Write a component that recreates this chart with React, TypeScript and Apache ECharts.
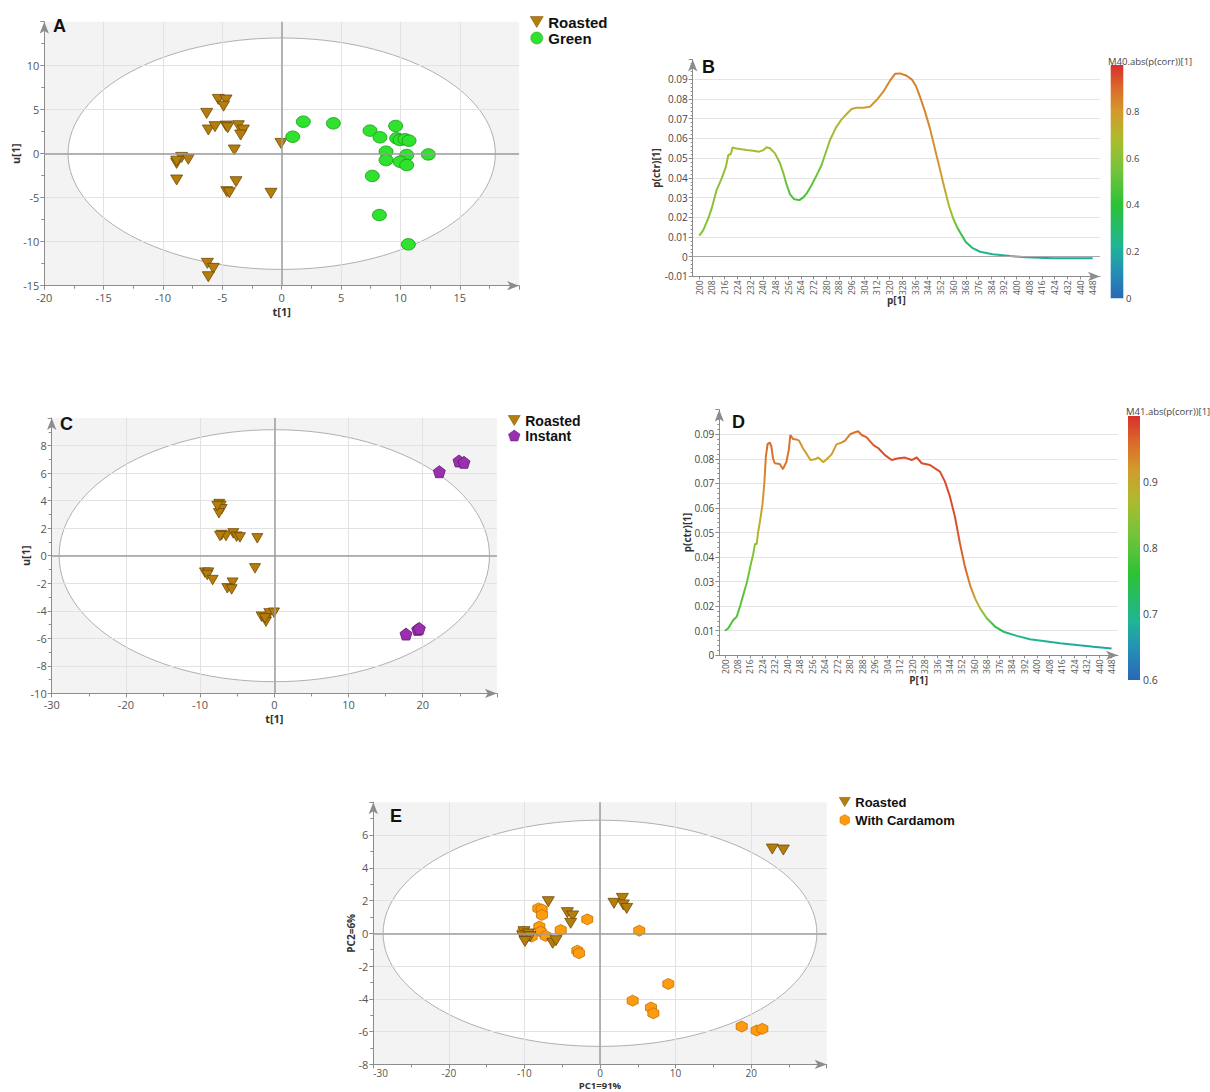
import React, { useEffect, useRef } from 'react';
import * as echarts from 'echarts';

// ---------------- Panel A (OPLS-DA scores, Roasted vs Green) ----------------
const A_ROASTED: [number, number][] = [
  [-5.34, 6.17], [-4.69, 6.1], [-4.9, 5.4], [-6.32, 4.58], [-6.18, 2.69], [-5.62, 3.07],
  [-4.69, 3.14], [-4.55, 2.95], [-3.65, 3.18], [-3.23, 2.69], [-3.46, 2.12], [-3.99, 0.42],
  [-0.06, 1.17], [-8.85, -1.1], [-8.43, -0.42], [-7.87, -0.64], [-8.85, -0.85], [-8.85, -2.99],
  [-3.85, -3.18], [-4.63, -4.32], [-4.41, -4.43], [-0.9, -4.5], [-6.26, -12.46], [-5.76, -13.03],
  [-6.18, -13.98],
];
const A_GREEN: [number, number][] = [
  [0.93, 1.93], [1.82, 3.64], [4.35, 3.45], [7.44, 2.62], [8.28, 1.86], [9.6, 3.15], [9.69, 1.75],
  [9.97, 1.56], [10.39, 1.64], [10.73, 1.48], [8.79, 0.23], [8.79, -0.72], [10.53, -0.15],
  [9.97, -0.91], [10.53, -1.29], [12.35, -0.08], [7.63, -2.53], [8.23, -6.97], [10.67, -10.3],
];
const A_ELLIPSE = [18, 13.15];

// ---------------- Panel B (loadings, p(ctr)[1]) ----------------
const B_X = [200, 202.5, 205.7, 207.8, 210.9, 214.1, 216.8, 218.3, 219.8, 221, 222.5, 225.6, 229.8, 234, 237.8,
  240.4, 242.5, 244.6, 247.7, 250.9, 253, 255.1, 257.2, 259.9, 263.1, 265.6, 267.7, 270.8, 274, 277.1, 279.2,
  282.4, 286.2, 289.7, 292.9, 296, 299.2, 303.4, 307.6, 311.8, 316, 320.2, 323.4, 326.5, 330.7, 333.9, 336.6,
  339.1, 342.3, 345.4, 348.6, 351.5, 354.5, 357.5, 360, 362.5, 365, 368, 372, 377, 385, 396, 406, 423, 448];
const B_Y = [0.0107, 0.0135, 0.0195, 0.0245, 0.0338, 0.0397, 0.0457, 0.0516, 0.052, 0.0555, 0.055, 0.0546,
  0.0541, 0.0538, 0.0533, 0.0541, 0.0555, 0.055, 0.0524, 0.0474, 0.0423, 0.0364, 0.0316, 0.0291, 0.0287,
  0.0301, 0.0321, 0.0364, 0.0414, 0.0465, 0.0516, 0.0592, 0.0656, 0.0697, 0.0724, 0.0749, 0.0756, 0.0756,
  0.0761, 0.0795, 0.0837, 0.0893, 0.0928, 0.093, 0.0918, 0.09, 0.0866, 0.0812, 0.0736, 0.0651, 0.0545, 0.045,
  0.035, 0.0255, 0.0195, 0.015, 0.0115, 0.0075, 0.0045, 0.0025, 0.0012, 0.0003, -0.0003, -0.0008, -0.0008];
const B_CORR = [0.6, 0.6, 0.61, 0.61, 0.62, 0.62, 0.63, 0.64, 0.64, 0.65, 0.65, 0.65, 0.65, 0.65, 0.65, 0.65,
  0.65, 0.65, 0.64, 0.6, 0.57, 0.52, 0.48, 0.45, 0.44, 0.45, 0.47, 0.5, 0.53, 0.56, 0.6, 0.63, 0.66, 0.69, 0.72,
  0.75, 0.77, 0.78, 0.79, 0.81, 0.83, 0.85, 0.86, 0.86, 0.86, 0.86, 0.85, 0.85, 0.84, 0.83, 0.82, 0.8, 0.76,
  0.68, 0.6, 0.5, 0.42, 0.34, 0.28, 0.24, 0.22, 0.21, 0.2, 0.19, 0.18];
const B_XTICKS = [200, 208, 216, 224, 232, 240, 248, 256, 264, 272, 280, 288, 296, 304, 312, 320, 328, 336,
  344, 352, 360, 368, 376, 384, 392, 400, 408, 416, 424, 432, 440, 448];
const B_CB_TICKS = [0, 0.2, 0.4, 0.6, 0.8];

// ---------------- Panel C (Roasted vs Instant) ----------------
const C_ROASTED: [number, number][] = [
  [-7.41, 3.75], [-7.23, 3.61], [-7.1, 3.37], [-7.46, 3.08], [-7.68, 3.61], [-7.1, 1.5], [-6.51, 1.43],
  [-7.32, 1.43], [-5.53, 1.62], [-5.08, 1.38], [-4.63, 1.33], [-2.29, 1.26], [-2.6, -0.92], [-9.34, -1.23],
  [-8.89, -1.23], [-9.03, -1.4], [-8.31, -1.77], [-5.62, -1.96], [-6.33, -2.37], [-5.75, -2.45],
  [-1.71, -4.43], [-1.12, -4.79], [-0.67, -4.19], [-0.04, -4.14], [-1.26, -4.55],
];
const C_INSTANT: [number, number][] = [
  [22.24, 6.1], [24.89, 6.88], [25.56, 6.78], [17.75, -5.69], [19.32, -5.35], [19.55, -5.28],
];
const C_ELLIPSE = [29, 9.15];

// ---------------- Panel D (loadings) ----------------
const D_X = [200, 202.1, 205.3, 207.5, 209.6, 211.7, 213.9, 216.7, 218.1, 219.2, 220.3, 221.3, 222.9, 224.1,
  225.2, 226.2, 227.3, 228.8, 229.8, 230.8, 231.9, 235.1, 237.2, 239.4, 240.9, 241.9, 243.6, 245.8, 247.5, 250,
  252.2, 254.8, 257.7, 259.8, 263, 265.2, 268.4, 271.5, 274.7, 277, 280.2, 283.4, 285.5, 287.7, 290.9, 295.2,
  298.4, 302.6, 306.9, 311.2, 315.5, 319.8, 323, 326.2, 331.5, 334.7, 337.9, 341.1, 344.3, 347.5, 350.7, 353.9,
  357.2, 360.4, 363.6, 367.9, 373.2, 378.6, 387.2, 395.6, 404.2, 414.9, 425.6, 436.3, 448];
const D_Y = [0.01, 0.011, 0.0144, 0.0157, 0.0198, 0.0246, 0.0293, 0.0375, 0.0412, 0.0453, 0.0453, 0.0503,
  0.0564, 0.0619, 0.07, 0.0809, 0.086, 0.0866, 0.0849, 0.0802, 0.0782, 0.0779, 0.0758, 0.0788, 0.0836, 0.0897,
  0.0881, 0.0879, 0.0874, 0.0843, 0.0822, 0.0795, 0.0798, 0.0806, 0.0786, 0.0798, 0.0818, 0.0859, 0.0866,
  0.0874, 0.09, 0.0908, 0.0912, 0.0897, 0.0887, 0.0856, 0.0843, 0.0815, 0.0795, 0.0802, 0.0805, 0.0795, 0.0806,
  0.0782, 0.0775, 0.0761, 0.0748, 0.0707, 0.0646, 0.0564, 0.0456, 0.0361, 0.0286, 0.0232, 0.0191, 0.0151,
  0.0117, 0.0096, 0.0079, 0.0065, 0.0058, 0.0049, 0.0042, 0.0035, 0.0028];
const D_CORR = [0.78, 0.78, 0.79, 0.79, 0.8, 0.8, 0.81, 0.82, 0.83, 0.84, 0.86, 0.88, 0.9, 0.92, 0.93, 0.95,
  0.96, 0.96, 0.96, 0.95, 0.95, 0.95, 0.95, 0.95, 0.95, 0.96, 0.95, 0.94, 0.93, 0.92, 0.91, 0.9, 0.9, 0.9, 0.9,
  0.9, 0.91, 0.92, 0.93, 0.94, 0.95, 0.95, 0.96, 0.96, 0.97, 0.97, 0.98, 0.98, 0.98, 0.98, 0.98, 0.98, 0.98,
  0.98, 0.98, 0.98, 0.98, 0.98, 0.98, 0.98, 0.97, 0.96, 0.94, 0.91, 0.87, 0.82, 0.76, 0.72, 0.7, 0.69, 0.69,
  0.68, 0.68, 0.67, 0.67];
const D_XTICKS = [200, 208, 216, 224, 232, 240, 248, 256, 264, 272, 280, 288, 296, 304, 312, 320, 328, 336,
  344, 352, 360, 368, 376, 384, 392, 400, 408, 416, 424, 432, 440, 448];
const D_CB_TICKS = [0.6, 0.7, 0.8, 0.9];

// ---------------- Panel E (PCA, Roasted vs With Cardamom) ----------------
const E_ROASTED: [number, number][] = [
  [-6.84, 1.93], [-4.32, 1.26], [-3.62, 1.06], [-3.88, 0.61], [-6.26, -0.61], [-5.82, -0.45], [-10.06, 0.1],
  [-10.23, -0.16], [-9.48, -0.04], [-9.7, -0.3], [-9.26, -0.2], [-9.93, -0.5], [1.85, 1.83], [2.96, 2.13],
  [3.09, 1.73], [3.53, 1.52], [22.8, 5.14], [24.26, 5.08],
];
const E_CARDAMOM: [number, number][] = [
  [-8.16, 1.52], [-7.72, 1.46], [-7.68, 1.12], [-8.03, 0.41], [-7.85, 0.1], [-7.19, -0.16], [-5.2, 0.2],
  [-1.68, 0.85], [-3, -1.06], [-2.78, -1.22], [-10.15, 0.1], [-9.04, -0.2], [5.2, 0.16], [9.04, -3.09],
  [4.32, -4.11], [6.75, -4.53], [7.06, -4.88], [18.75, -5.69], [20.73, -5.93], [21.48, -5.83],
];
const E_ELLIPSE = [28.7, 6.9];

// ---------------- styles ----------------
const TRI = 'path://M0,0L12,0L6,10Z';
const PENT = 'path://M50,0L97.55,34.55L79.39,90.45L20.61,90.45L2.45,34.55Z';
const HEX = 'path://M50,0L93.3,25L93.3,75L50,100L6.7,75L6.7,25Z';
const AXIS_COLOR = '#8c8c8c';
const LABEL_COLOR = '#555';
const FONT = 'Open Sans';

const CMAP: [number, string][] = [
  [0, '#2a68b5'], [0.12, '#2590b5'], [0.22, '#1fb496'], [0.4, '#2cc236'], [0.55, '#74c43a'],
  [0.68, '#adbb2f'], [0.8, '#d39a2c'], [0.9, '#db6a2a'], [1, '#d8302a'],
];

function hexRgb(h: string) {
  return [parseInt(h.slice(1, 3), 16), parseInt(h.slice(3, 5), 16), parseInt(h.slice(5, 7), 16)];
}
function cmap(t: number): string {
  const v = Math.max(0, Math.min(1, t));
  for (let i = 1; i < CMAP.length; i++) {
    if (v <= CMAP[i][0]) {
      const [o0, c0] = CMAP[i - 1];
      const [o1, c1] = CMAP[i];
      const f = (v - o0) / (o1 - o0);
      const a = hexRgb(c0), b = hexRgb(c1);
      const r = a.map((x, k) => Math.round(x + (b[k] - x) * f));
      return `rgb(${r[0]},${r[1]},${r[2]})`;
    }
  }
  return CMAP[CMAP.length - 1][1];
}
function lineGradient(xs: number[], corr: number[], lo: number, hi: number) {
  const x0 = xs[0], x1 = xs[xs.length - 1];
  return new echarts.graphic.LinearGradient(0, 0, 1, 0,
    xs.map((x, i) => ({ offset: (x - x0) / (x1 - x0), color: cmap((corr[i] - lo) / (hi - lo)) })));
}
function barGradient() {
  return new echarts.graphic.LinearGradient(0, 1, 0, 0, CMAP.map(([o, c]) => ({ offset: o, color: c })));
}

function scatterAxis(idx: number, min: number, max: number, interval: number, name: string, nameGap: number, isX: boolean, nameSize = 11, labelMargin?: number, labelSize = 11, alignMin?: string) {
  return {
    type: 'value', gridIndex: idx, min, max, interval,
    name, nameLocation: 'middle', nameGap, nameMoveOverlap: false,
    nameTextStyle: { fontWeight: 'bold', fontSize: nameSize, color: '#333', fontFamily: FONT },
    axisLine: { show: true, onZero: false, lineStyle: { color: AXIS_COLOR }, symbol: ['none', 'arrow'], symbolSize: [7, 12] },
    axisTick: { show: true, length: 4, lineStyle: { color: AXIS_COLOR } },
    minorTick: { show: true, splitNumber: 2, length: 3, lineStyle: { color: AXIS_COLOR } },
    axisLabel: {
      color: LABEL_COLOR, fontSize: labelSize, fontFamily: FONT, margin: labelMargin ?? (isX ? 6 : 5),
      showMaxLabel: false, ...(alignMin ? { alignMinLabel: alignMin } : {}),
    },
    splitLine: { show: true, showMinLine: false, showMaxLine: false, lineStyle: { color: '#e2e2e2', width: 1 } },
  };
}

function ellipseSeries(idx: number, ab: number[]) {
  return {
    type: 'custom', xAxisIndex: idx, yAxisIndex: idx, z: -1, silent: true,
    data: [[0, 0, ab[0], ab[1]]],
    renderItem: (_p: any, api: any) => {
      const c = api.coord([api.value(0), api.value(1)]);
      const s = api.size([api.value(2), api.value(3)]);
      return {
        type: 'ellipse',
        shape: { cx: c[0], cy: c[1], rx: s[0], ry: s[1] },
        style: { fill: '#ffffff', stroke: '#b0b0b0', lineWidth: 1 },
      };
    },
    markLine: {
      silent: true, symbol: ['none', 'none'], label: { show: false },
      lineStyle: { color: '#9e9e9e', width: 1.5, type: 'solid' },
      data: [{ xAxis: 0 }, { yAxis: 0 }],
    },
  };
}

function scatterSeries(idx: number, name: string, data: [number, number][], symbol: string, size: any, fill: string, edge: string) {
  return {
    type: 'scatter', name, xAxisIndex: idx, yAxisIndex: idx, data, symbol, symbolSize: size, z: 3,
    itemStyle: { color: fill, borderColor: edge, borderWidth: 0.8, opacity: 1 },
  };
}

const ROAST_FILL = '#b47d0c';
const ROAST_EDGE = '#6e4a05';

function legendCfg(names: string[], left: number, top: number, iw: number, ih: number, gap: number, fs: number, lh: number) {
  return {
    data: names, left, top, orient: 'vertical', itemWidth: iw, itemHeight: ih, itemGap: gap, padding: 0,
    selectedMode: false,
    itemStyle: { borderWidth: 0.5 },
    textStyle: { fontSize: fs, fontWeight: 'bold', fontFamily: 'Liberation Sans', color: '#111', lineHeight: lh },
  };
}

function colorbar(x: number, top: number, w: number, h: number, lo: number, hi: number, ticks: number[], title: string, titleX: number, titleY: number, labelX: number, fs: number) {
  const els: any[] = [
    { type: 'rect', shape: { x, y: top, width: w, height: h }, style: { fill: barGradient() } },
    { type: 'text', x: titleX, y: titleY, style: { text: title, fontSize: 9.5, fontFamily: FONT, fill: '#444', verticalAlign: 'middle' } },
  ];
  ticks.forEach((v) => {
    els.push({
      type: 'text', x: labelX, y: top + h - ((v - lo) / (hi - lo)) * h,
      style: { text: v === 0 ? '0' : String(v), fontSize: fs, fontFamily: FONT, fill: '#444', verticalAlign: 'middle' },
    });
  });
  return els;
}

function letter(t: string, x: number, y: number) {
  return { type: 'text', x, y, style: { text: t, fontSize: 18, fontWeight: 'bold', fontFamily: 'Liberation Sans', fill: '#111', verticalAlign: 'middle' } };
}

function buildOption() {
  const gridBase = { show: true, backgroundColor: '#f3f3f3', borderWidth: 0, z: -2, outerBoundsMode: 'none', containLabel: false };
  const lineGrid = { show: false, outerBoundsMode: 'none', containLabel: false };
  const yFmt = (v: number) => (Math.abs(v) < 1e-9 ? '0' : v.toFixed(2));
  const lineX = (idx: number, min: number, max: number, ticks: number[], name: string, gap: number) => ({
    type: 'value', gridIndex: idx, min, max,
    name, nameLocation: 'middle', nameGap: gap, nameMoveOverlap: false,
    nameTextStyle: { fontWeight: 'bold', fontSize: 10, color: '#333', fontFamily: FONT },
    axisLine: { show: true, onZero: false, lineStyle: { color: AXIS_COLOR }, symbol: ['none', 'arrow'], symbolSize: [7, 12] },
    axisTick: { show: true, length: 3, customValues: ticks, lineStyle: { color: AXIS_COLOR } },
    axisLabel: { customValues: ticks, rotate: 90, fontSize: 8.5, color: LABEL_COLOR, fontFamily: FONT, margin: 4 },
    splitLine: { show: false },
  });
  const lineY = (idx: number, min: number, max: number, gap: number) => ({
    type: 'value', gridIndex: idx, min, max, interval: 0.01,
    name: 'p(ctr)[1]', nameLocation: 'middle', nameGap: gap, nameMoveOverlap: false,
    nameTextStyle: { fontWeight: 'bold', fontSize: 10, color: '#333', fontFamily: FONT },
    axisLine: { show: true, onZero: false, lineStyle: { color: AXIS_COLOR }, symbol: ['none', 'arrow'], symbolSize: [7, 12] },
    axisTick: { show: true, length: 4, lineStyle: { color: AXIS_COLOR } },
    minorTick: { show: true, splitNumber: 5, length: 2, lineStyle: { color: AXIS_COLOR } },
    axisLabel: { formatter: yFmt, fontSize: 10, color: '#444', fontFamily: FONT, margin: 5, showMaxLabel: false },
    splitLine: { show: true, showMinLine: false, showMaxLine: false, lineStyle: { color: '#e4e4e4' } },
  });

  return {
    animation: false,
    backgroundColor: '#ffffff',
    grid: [
      { ...gridBase, left: 44.3, top: 21.7, width: 474.8, height: 264 },
      { ...lineGrid, left: 692.7, top: 59.6, width: 407.3, height: 216.8 },
      { ...gridBase, left: 51.7, top: 418, width: 445.2, height: 275.4 },
      { ...lineGrid, left: 719.3, top: 409.7, width: 398.7, height: 245.6 },
      { ...gridBase, left: 373.3, top: 802.2, width: 453.4, height: 262.2 },
    ],
    xAxis: [
      scatterAxis(0, -20, 20, 5, 't[1]', 20, true),
      lineX(1, 195.84, 452.6, B_XTICKS, 'p[1]', 19),
      scatterAxis(2, -30, 30, 10, 't[1]', 20, true),
      lineX(3, 196.34, 452.1, D_XTICKS, 'P[1]', 20),
      scatterAxis(4, -30, 30, 10, 'PC1=91%', 16.5, true, 9.5, 3.5, 10, 'left'),
    ],
    yAxis: [
      scatterAxis(0, -15, 15, 5, 'u[1]', 23, false),
      lineY(1, -0.01, 0.1, 32),
      scatterAxis(2, -10, 10, 2, 'u[1]', 21, false),
      lineY(3, 0, 0.1, 27),
      scatterAxis(4, -8, 8, 2, 'PC2=6%', 17, false, 10),
    ],
    legend: [
      legendCfg(['Roasted', 'Green'], 530, 14, 13, 12, 0, 15, 16),
      legendCfg(['Roasted', 'Instant'], 508, 413, 12, 11, 0, 14, 15),
      legendCfg(['Roasted', 'With Cardamom'], 839, 795, 11, 11, 4, 13, 14),
    ],
    series: [
      ellipseSeries(0, A_ELLIPSE),
      scatterSeries(0, 'Roasted', A_ROASTED, TRI, [12, 10], ROAST_FILL, ROAST_EDGE),
      scatterSeries(0, 'Green', A_GREEN, 'circle', [14, 11.5], '#2ee22e', '#179a17'),
      {
        type: 'line', xAxisIndex: 1, yAxisIndex: 1, showSymbol: false, silent: true,
        data: B_X.map((x, i) => [x, B_Y[i]]),
        lineStyle: { width: 2, color: lineGradient(B_X, B_CORR, 0, 1) },
        markLine: {
          silent: true, symbol: ['none', 'none'], label: { show: false },
          lineStyle: { color: '#a8a8a8', width: 1.2, type: 'solid' }, data: [{ yAxis: 0 }],
        },
      },
      ellipseSeries(2, C_ELLIPSE),
      scatterSeries(2, 'Roasted', C_ROASTED, TRI, [11, 9.5], ROAST_FILL, ROAST_EDGE),
      scatterSeries(2, 'Instant', C_INSTANT, PENT, 12, '#9a2fb0', '#5e1a6e'),
      {
        type: 'line', xAxisIndex: 3, yAxisIndex: 3, showSymbol: false, silent: true,
        data: D_X.map((x, i) => [x, D_Y[i]]),
        lineStyle: { width: 2, color: lineGradient(D_X, D_CORR, 0.6, 1.0) },
      },
      ellipseSeries(4, E_ELLIPSE),
      scatterSeries(4, 'With Cardamom', E_CARDAMOM, HEX, 11, '#ff9b0f', '#c46f00'),
      scatterSeries(4, 'Roasted', E_ROASTED, TRI, [12, 10], ROAST_FILL, ROAST_EDGE),
    ],
    graphic: [
      letter('A', 53, 26),
      letter('B', 702, 67),
      letter('C', 60, 424),
      letter('D', 732, 422),
      letter('E', 390, 816),
      ...colorbar(1110.7, 65, 12.6, 233.3, 0, 1, B_CB_TICKS, 'M40.abs(p(corr))[1]', 1108, 61, 1126, 9.5),
      ...colorbar(1128, 416, 12, 264, 0.6, 1.0, D_CB_TICKS, 'M41.abs(p(corr))[1]', 1126, 411, 1143, 10.5),
    ],
  };
}

export default function App() {
  const ref = useRef<HTMLDivElement>(null);
  useEffect(() => {
    if (!ref.current) return;
    const chart = echarts.init(ref.current, null, { renderer: 'svg' });
    chart.setOption(buildOption() as any);
    return () => chart.dispose();
  }, []);
  return <div ref={ref} style={{ position: 'absolute', left: 0, top: 0, width: 1210, height: 1092 }} />;
}
